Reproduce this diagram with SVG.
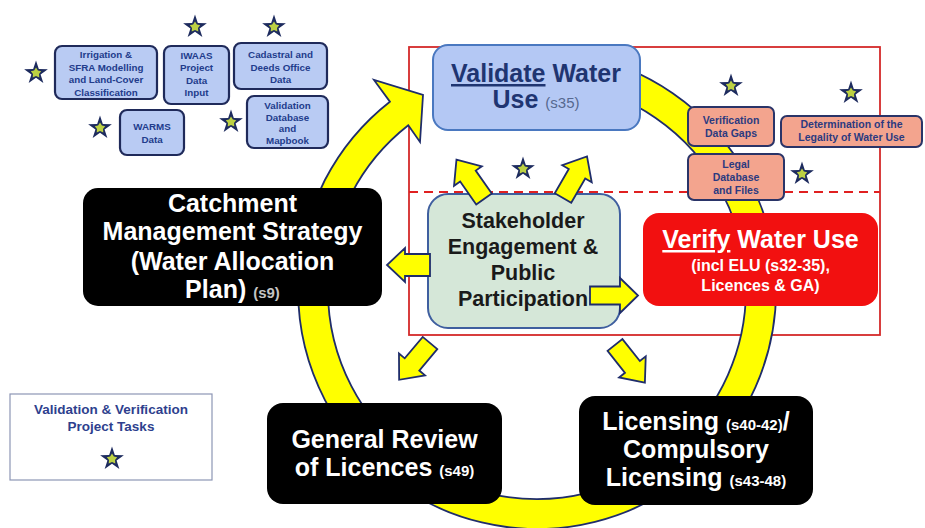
<svg xmlns="http://www.w3.org/2000/svg" width="925" height="528" viewBox="0 0 925 528">
<style>
text{font-family:"Liberation Sans",Arial,sans-serif;font-weight:bold;text-anchor:middle}
.sb{fill:#b9cbf3;stroke:#1f2a5a;stroke-width:2.2}
.st{font-size:9.8px;fill:#223c8c}
.sal{fill:#f3a48e;stroke:#2a3468;stroke-width:2}
.salt{font-size:10.5px;fill:#2b3a80}
.blk{fill:#000}
.wt{fill:#fff;font-size:25px}
.sm{font-size:15px}
.ya{fill:#ffff00;stroke:#1f2d6b;stroke-width:1.8;stroke-linejoin:miter}
</style>
<defs>
<g id="star">
<path d="M0,-12.5 L2.82,-3.88 L11.89,-3.86 L4.57,1.48 L7.35,10.11 L0,4.8 L-7.35,10.11 L-4.57,1.48 L-11.89,-3.86 L-2.82,-3.88 Z" fill="#1d2b5e"/>
<path d="M0,-5.5 L1.9,-2.4 L5.2,-1.7 L3,1 L3.3,4.5 L0,3.1 L-3.3,4.5 L-3,1 L-5.2,-1.7 L-1.9,-2.4 Z" fill="#bcd143"/>
</g>
<path id="barrow" d="M0,-9.5 L28,-9.5 L28,-17 L48,0 L28,17 L28,9.5 L0,9.5 Z"/>
</defs>

<!-- validation / verification frame -->
<g id="frame">
<rect x="409" y="47" width="471" height="288" fill="none" stroke="#d42a2a" stroke-width="1.8"/>
<line x1="409" y1="192" x2="880" y2="192" stroke="#e02020" stroke-width="2" stroke-dasharray="9 6"/>
</g>

<!-- connectors -->
<g id="connectors">
<path id="cycle" class="ya" d="M578.5,54.6 A239,239 0 1 1 389.9,101.7 L374,80 L423,95 L420,142 L408.3,125.3 A209,209 0 1 0 573.3,84.2 Z"/>
</g>

<!-- small project-task boxes -->
<g id="irrigation">
<rect class="sb" x="55" y="46" width="102" height="53" rx="7"/>
<text class="st" x="106" y="58">Irrigation &amp;</text>
<text class="st" x="106" y="70.5">SFRA Modelling</text>
<text class="st" x="106" y="83">and Land-Cover</text>
<text class="st" x="106" y="95.5">Classification</text>
</g>
<g id="iwaas">
<rect class="sb" x="164" y="46" width="65" height="58" rx="7"/>
<text class="st" x="196.5" y="58.5">IWAAS</text>
<text class="st" x="196.5" y="71">Project</text>
<text class="st" x="196.5" y="83.5">Data</text>
<text class="st" x="196.5" y="96">Input</text>
</g>
<g id="cadastral">
<rect class="sb" x="234" y="43" width="93" height="46" rx="7"/>
<text class="st" x="280.5" y="58">Cadastral and</text>
<text class="st" x="280.5" y="70.5">Deeds Office</text>
<text class="st" x="280.5" y="83">Data</text>
</g>
<g id="validationdb">
<rect class="sb" x="247" y="96" width="81" height="52" rx="7"/>
<text class="st" x="287.5" y="108.5">Validation</text>
<text class="st" x="287.5" y="120.5">Database</text>
<text class="st" x="287.5" y="132">and</text>
<text class="st" x="287.5" y="144">Mapbook</text>
</g>
<g id="warms">
<rect class="sb" x="120" y="110" width="64" height="45" rx="7"/>
<text class="st" x="152" y="130">WARMS</text>
<text class="st" x="152" y="142.5">Data</text>
</g>

<!-- validate -->
<g id="validate">
<rect x="433" y="45" width="207" height="85" rx="15" fill="#b4c8f4" stroke="#4a78c0" stroke-width="2"/>
<text x="536" y="82" font-size="25" fill="#1f3571"><tspan text-decoration="underline">Validate</tspan> Water</text>
<text x="536" y="108" font-size="25" fill="#1f3571">Use <tspan class="sm" font-weight="normal" fill="#56688f">(s35)</tspan></text>
</g>

<!-- verification salmon boxes -->
<g id="gaps">
<rect class="sal" x="688" y="107" width="86" height="39" rx="6"/>
<text class="salt" x="731" y="124">Verification</text>
<text class="salt" x="731" y="137">Data Gaps</text>
</g>
<g id="legality">
<rect class="sal" x="781" y="116" width="141" height="31" rx="6"/>
<text class="salt" x="851.5" y="128">Determination  of  the</text>
<text class="salt" x="851.5" y="141">Legality  of  Water Use</text>
</g>
<g id="legaldb">
<rect class="sal" x="688" y="154" width="96" height="46" rx="6"/>
<text class="salt" x="736" y="168">Legal</text>
<text class="salt" x="736" y="181">Database</text>
<text class="salt" x="736" y="194">and Files</text>
</g>

<!-- stakeholder -->
<g id="stakeholder">
<rect x="428" y="194" width="192" height="134" rx="20" fill="#d5e7d8" stroke="#3f5f9f" stroke-width="2"/>
<text x="523" y="228" font-size="21.5" fill="#1a1a1a">Stakeholder</text>
<text x="523" y="254" font-size="21.5" fill="#1a1a1a">Engagement &amp;</text>
<text x="523" y="280" font-size="21.5" fill="#1a1a1a">Public</text>
<text x="523" y="306" font-size="21.5" fill="#1a1a1a">Participation</text>
</g>

<!-- verify -->
<g id="verify">
<rect x="643" y="213" width="235" height="93" rx="16" fill="#f21010"/>
<text x="760.5" y="248" class="wt"><tspan text-decoration="underline">Verify</tspan> Water Use</text>
<text x="760.5" y="271" font-size="16" fill="#fff">(incl ELU (s32-35),</text>
<text x="760.5" y="291" font-size="16" fill="#fff">Licences &amp; GA)</text>
</g>

<!-- CMS -->
<g id="cms">
<rect class="blk" x="83" y="188" width="299" height="118" rx="15"/>
<text class="wt" x="232.5" y="212">Catchment</text>
<text class="wt" x="232.5" y="240">Management Strategy</text>
<text class="wt" x="232.5" y="270">(Water Allocation</text>
<text class="wt" x="232.5" y="298">Plan) <tspan class="sm" fill="#c4c4c4">(s9)</tspan></text>
</g>

<!-- general review -->
<g id="review">
<rect class="blk" x="267" y="403" width="235" height="101" rx="16"/>
<text class="wt" x="384.5" y="448">General Review</text>
<text class="wt" x="384.5" y="476">of Licences <tspan class="sm">(s49)</tspan></text>
</g>

<!-- licensing -->
<g id="licensing">
<rect class="blk" x="579" y="396" width="234" height="109" rx="16"/>
<text class="wt" x="696" y="430">Licensing <tspan class="sm">(s40-42)</tspan>/</text>
<text class="wt" x="696" y="458">Compulsory</text>
<text class="wt" x="696" y="486">Licensing <tspan class="sm">(s43-48)</tspan></text>
</g>

<!-- block arrows from stakeholder engagement -->
<g id="stakeholder-arrows">
<use href="#barrow" class="ya" transform="translate(484,199) rotate(235)"/>
<use href="#barrow" class="ya" transform="translate(563,198) rotate(300)"/>
<use href="#barrow" class="ya" transform="translate(430,343) rotate(130)"/>
<use href="#barrow" class="ya" transform="translate(615,345) rotate(51.5)"/>
<polygon class="ya" points="430,254 405,254 405,248 387,265 405,282 405,276 430,276"/>
<polygon class="ya" points="590,286.5 620,286.5 620,278 638,295.5 620,313 620,304.5 590,304.5"/>
</g>

<!-- legend -->
<g id="legend">
<rect x="10" y="394" width="202" height="86" fill="#fff" stroke="#8d96b5" stroke-width="1.2"/>
<text x="111" y="414" font-size="13.5" fill="#2e3f8e">Validation &amp; Verification</text>
<text x="111" y="431" font-size="13.5" fill="#2e3f8e">Project Tasks</text>
<use href="#star" x="112" y="459"/>
</g>

<!-- task stars -->
<g id="stars">
<use href="#star" x="36" y="73"/>
<use href="#star" x="195" y="27"/>
<use href="#star" x="274" y="27"/>
<use href="#star" x="100" y="128"/>
<use href="#star" x="231" y="122"/>
<use href="#star" x="731" y="86"/>
<use href="#star" x="851" y="93"/>
<use href="#star" x="802" y="174"/>
<use href="#star" x="523" y="169"/>
</g>
</svg>
